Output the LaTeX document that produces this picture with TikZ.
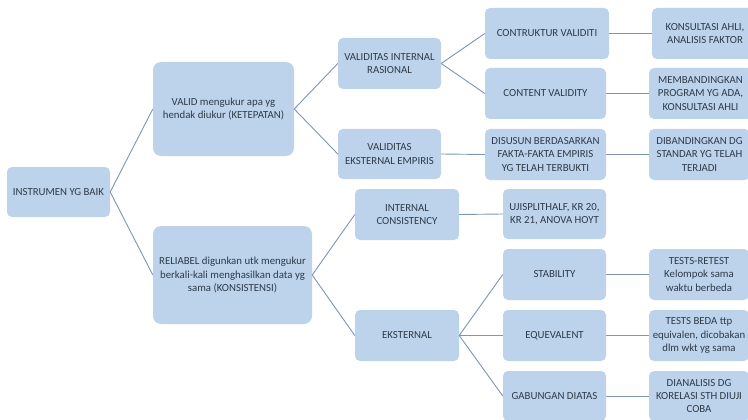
\documentclass[tikz,border=0pt]{standalone}
\usepackage{fontspec}
\setmainfont{Carlito}
\definecolor{boxfill}{HTML}{BDD3EC}
\definecolor{linecol}{HTML}{7E95B5}
\definecolor{txt}{HTML}{2E3A48}
\begin{document}
\begin{tikzpicture}[x=1pt,y=-1pt,
  box/.style={draw=none,fill=boxfill,rounded corners=5pt,align=center,
    text=txt,font=\fontsize{10.8}{13.4}\selectfont,inner sep=1pt},
  conn/.style={draw=linecol,line width=0.9pt}]
\useasboundingbox (0,0) rectangle (748,420);
\clip (0,0) rectangle (748,420);
% column 1
\node[box,minimum width=103pt,minimum height=50pt] (root) at (58.5,192) {INSTRUMEN YG BAIK};
% column 2
\node[box,rounded corners=8pt,minimum width=141pt,minimum height=94pt] (valid) at (223.5,109) {VALID mengukur apa yg\\hendak diukur (KETEPATAN)};
\node[box,rounded corners=8pt,minimum width=159pt,minimum height=98pt] (rel) at (232.5,275) {RELIABEL digunkan utk mengukur\\berkali-kali menghasilkan data yg\\sama (KONSISTENSI)};
% column 3
\node[box,minimum width=103pt,minimum height=51pt] (vir) at (389.5,63.5) {VALIDITAS INTERNAL\\RASIONAL};
\node[box,minimum width=103pt,minimum height=50pt] (vee) at (389.5,154) {VALIDITAS\\EKSTERNAL EMPIRIS};
\node[box,minimum width=104pt,minimum height=51pt] (ic) at (407,214.5) {INTERNAL\\CONSISTENCY};
\node[box,minimum width=104pt,minimum height=51pt] (eks) at (407,335.5) {EKSTERNAL};
% column 4
\node[box,minimum width=124pt,minimum height=51pt] (cv) at (547,33.5) {CONTRUKTUR VALIDITI};
\node[box,minimum width=121pt,minimum height=51pt] (ctv) at (545.5,93.5) {CONTENT VALIDITY};
\node[box,minimum width=121pt,minimum height=51pt] (dis) at (545.5,154.5) {DISUSUN BERDASARKAN\\FAKTA-FAKTA EMPIRIS\\YG TELAH TERBUKTI};
\node[box,minimum width=103pt,minimum height=50pt] (uji) at (554.5,214) {UJISPLITHALF, KR 20,\\KR 21, ANOVA HOYT};
\node[box,minimum width=103pt,minimum height=51pt] (stab) at (554.5,274.5) {STABILITY};
\node[box,minimum width=103pt,minimum height=51pt] (equ) at (554.5,335.5) {EQUEVALENT};
\node[box,minimum width=103pt,minimum height=50pt] (gab) at (554.5,396) {GABUNGAN DIATAS};
% column 5
\node[box,minimum width=106pt,minimum height=51pt] (kons) at (705,33.5) {KONSULTASI AHLI,\\ANALISIS FAKTOR};
\node[box,minimum width=103pt,minimum height=51pt] (memb) at (700.5,93.5) {MEMBANDINGKAN\\PROGRAM YG ADA,\\KONSULTASI AHLI};
\node[box,minimum width=101pt,minimum height=51pt] (dib) at (699.5,154.5) {DIBANDINGKAN DG\\STANDAR YG TELAH\\TERJADI};
\node[box,minimum width=100pt,minimum height=51pt] (tr) at (699,274.5) {TESTS-RETEST\\Kelompok sama\\waktu berbeda};
\node[box,minimum width=100pt,minimum height=51pt] (tb) at (699,335.5) {TESTS BEDA ttp\\equivalen, dicobakan\\dlm wkt yg sama};
\node[box,minimum width=100pt,minimum height=50pt] (dia) at (699,396) {DIANALISIS DG\\KORELASI STH DIUJI\\COBA};
% connectors
\draw[conn] (root.east) -- (valid.west);
\draw[conn] (root.east) -- (rel.west);
\draw[conn] (valid.east) -- (vir.west);
\draw[conn] (valid.east) -- (vee.west);
\draw[conn] (rel.east) -- (ic.west);
\draw[conn] (rel.east) -- (eks.west);
\draw[conn] (vir.east) -- (cv.west);
\draw[conn] (vir.east) -- (ctv.west);
\draw[conn] (vee.east) -- (dis.west);
\draw[conn] (ic.east) -- (uji.west);
\draw[conn] (eks.east) -- (stab.west);
\draw[conn] (eks.east) -- (equ.west);
\draw[conn] (eks.east) -- (gab.west);
\draw[conn] (cv.east) -- (kons.west);
\draw[conn] (ctv.east) -- (memb.west);
\draw[conn] (dis.east) -- (dib.west);
\draw[conn] (stab.east) -- (tr.west);
\draw[conn] (equ.east) -- (tb.west);
\draw[conn] (gab.east) -- (dia.west);
\end{tikzpicture}
\end{document}
